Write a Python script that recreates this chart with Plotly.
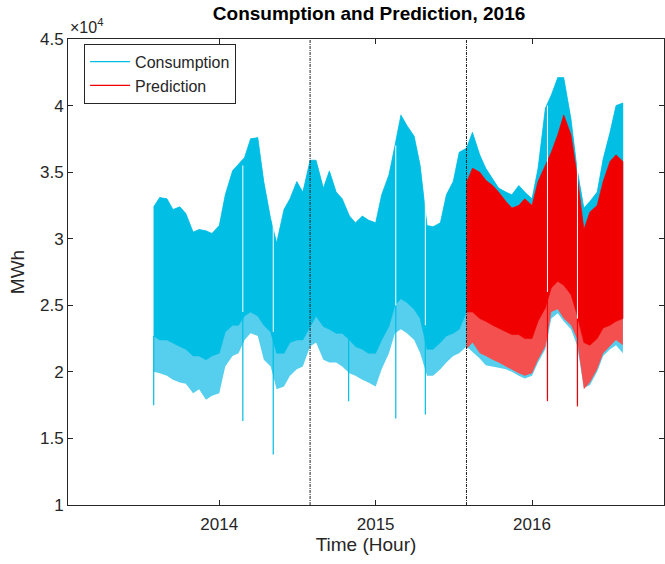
import pandas as pd
import plotly.graph_objects as go

# Half-month sample dates (1st and 15th of each month) plus the last day of data
dates = [d.strftime("%Y-%m-%d") for d in pd.date_range("2013-08-01", "2016-07-15", freq="SMS")]
dates.append("2016-07-31")
pred_dates = dates[48:]  # forecast period starts 2015-08-01

# Consumption (MWh): daily peak envelope, weekday trough envelope, weekend/low-day trough envelope
cons_high = [32400, 33100, 33000, 32200, 32400, 31900, 30500, 30700, 30600, 30400,
             31000, 33300, 35100, 35600, 36100, 37500, 37600, 34300, 31500, 29700,
             32200, 33000, 34300, 33500, 35900, 35900, 33800, 35100, 33500, 33000,
             31700, 31200, 31700, 31400, 31200, 33300, 34800, 37000, 39300, 38500,
             37700, 35500, 31000, 30900, 31200, 33300, 34300, 36500, 36800, 38000,
             36300, 35300, 34500, 33800, 33500, 33300, 34000, 33500, 33000, 35300,
             39800, 40800, 42100, 42100, 39000, 35300, 32300, 32800, 33500, 36000,
             38000, 40000, 40200]
cons_core_low = [22700, 22400, 22400, 22200, 21900, 21700, 21200, 21200, 20900, 21200,
                 21400, 23000, 23500, 23500, 24200, 24500, 24200, 23500, 23000, 21400,
                 21400, 22200, 22400, 22400, 23400, 24200, 23400, 23200, 22900, 22900,
                 22400, 21900, 21700, 21400, 21400, 22400, 23400, 25000, 25500, 25200,
                 24700, 24000, 21700, 21700, 22200, 22700, 22900, 23200, 24500, 24500,
                 24000, 23800, 23500, 23300, 23000, 22800, 22800, 22500, 22500, 23800,
                 24800, 26200, 26800, 26500, 25800, 24300, 22200, 22000, 22500, 23300,
                 23500, 23800, 24000]
cons_spike_low = [20000, 19900, 19700, 19400, 19200, 19100, 18400, 18700, 17900, 18200,
                  18400, 20400, 21200, 21400, 22400, 22900, 22700, 20900, 20400, 18700,
                  18900, 19700, 20200, 20400, 21900, 22200, 20900, 20700, 20700, 20400,
                  19900, 19700, 19400, 19200, 18900, 20200, 21400, 22900, 23200, 22900,
                  22400, 21400, 19700, 19700, 20200, 20700, 21200, 21400, 21900, 21500,
                  21000, 20500, 20400, 20300, 20200, 20000, 19700, 19500, 19700, 20700,
                  21700, 24000, 24400, 23800, 23200, 22000, 18800, 19000, 20000, 21200,
                  21700, 22000, 21400]

# Prediction (MWh) over the forecast period
pred_high = [34200, 35300, 35000, 34400, 34000, 33500, 32800, 32300, 32500, 33000,
             32500, 34300, 35500, 36500, 37800, 39300, 37800, 34800, 30700, 32000,
             32500, 34300, 35800, 36300, 35800]
pred_core_low = [24500, 24500, 24000, 23800, 23500, 23300, 23000, 22800, 22800, 22500,
                 22500, 23800, 24800, 26300, 26800, 26500, 25800, 24300, 22200, 22000,
                 22500, 23300, 23500, 23800, 24000]
pred_spike_low = [21700, 22200, 21400, 21200, 20900, 20700, 20400, 20200, 19900, 19700,
                  19900, 20900, 21900, 24500, 24700, 24000, 23500, 22500, 18700, 19200,
                  20200, 21400, 21900, 22400, 22000]

# Holidays: load drops sharply for a day
holiday_dates = ["2014-02-25", "2014-05-07", "2015-02-17", "2015-04-27", "2016-02-06", "2016-04-16"]
holiday_gap_top = [35500, 31500, 37000, 35500, 40000, 36000]
holiday_gap_bottom = [24500, 23000, 25000, 23500, 26000, 24000]
cons_holiday_min = [16300, 13800, 16500, 16800, 18000, 17600]
pred_holiday_dates = ["2016-02-06", "2016-04-16"]
pred_holiday_min = [17800, 17400]

# Other isolated low days
cons_low_dates = ["2013-08-01", "2014-10-30"]
cons_low_top = [22700, 22900]
cons_low_min = [17500, 17800]

# Period boundaries (dashed lines)
split_dates = ["2014-08-01", "2015-08-01"]

year_ticks = ["2014-01-01", "2015-01-01", "2016-01-01"]
year_labels = ["2014", "2015", "2016"]
y_ticks = [10000, 15000, 20000, 25000, 30000, 35000, 40000, 45000]
y_labels = ["1", "1.5", "2", "2.5", "3", "3.5", "4", "4.5"]

CYAN = "rgb(0,190,228)"
CYAN_LIGHT = "rgb(85,207,237)"
RED = "rgb(240,0,0)"
RED_LIGHT = "rgb(244,80,80)"
FONT = "Liberation Sans, Arial, sans-serif"
AXIS = "#262626"


def band(x, top, bottom, fill, line_w):
    return go.Scatter(
        x=list(x) + list(x)[::-1],
        y=list(top) + list(bottom)[::-1],
        fill="toself", fillcolor=fill, mode="lines",
        line=dict(color=fill, width=line_w),
        hoverinfo="skip", showlegend=False,
    )


def segments(xs, y0s, y1s, color, width):
    sx, sy = [], []
    for x, a, b in zip(xs, y0s, y1s):
        sx += [x, x, None]
        sy += [a, b, None]
    return go.Scatter(x=sx, y=sy, mode="lines", line=dict(color=color, width=width),
                      hoverinfo="skip", showlegend=False)


fig = go.Figure()

# Consumption band
fig.add_trace(band(dates, cons_high, cons_spike_low, CYAN_LIGHT, 0))
fig.add_trace(band(dates, cons_high, cons_core_low, CYAN, 0.6))
fig.add_trace(segments(cons_low_dates, cons_low_top, cons_low_min, CYAN, 1.2))
fig.add_trace(segments(holiday_dates, holiday_gap_bottom, cons_holiday_min, CYAN, 1.2))

# Prediction band
fig.add_trace(band(pred_dates, pred_high, pred_spike_low, RED_LIGHT, 0))
fig.add_trace(band(pred_dates, pred_high, pred_core_low, RED, 0.6))
fig.add_trace(segments(pred_holiday_dates, holiday_gap_bottom[4:], pred_holiday_min, RED, 1.2))

# Holiday gaps cut through the bands
fig.add_trace(segments(holiday_dates, holiday_gap_top, holiday_gap_bottom, "white", 1.0))

# Legend entries
fig.add_trace(go.Scatter(x=[None], y=[None], mode="lines", name="Consumption",
                         line=dict(color=CYAN, width=1.2)))
fig.add_trace(go.Scatter(x=[None], y=[None], mode="lines", name="Prediction",
                         line=dict(color=RED, width=1.2)))

for d in split_dates:
    fig.add_shape(type="line", xref="x", yref="paper", x0=d, x1=d, y0=0, y1=1,
                  line=dict(color="#222222", width=1, dash="3px,1px,1px,1px"), layer="above")

fig.add_annotation(xref="paper", yref="paper", x=0.0, y=1.0, xanchor="left", yanchor="bottom",
                   text="×10<sup>4</sup>", showarrow=False, yshift=1,
                   font=dict(family=FONT, size=16, color=AXIS))

fig.update_layout(
    width=665, height=564,
    margin=dict(l=68, r=1, t=39, b=59),
    paper_bgcolor="white", plot_bgcolor="white",
    font=dict(family=FONT, size=17, color=AXIS),
    title=dict(text="<b>Consumption and Prediction, 2016</b>", x=0.555, xanchor="center",
               y=0.976, yanchor="middle", font=dict(family=FONT, size=19, color="black")),
    legend=dict(x=0.027, y=0.99, xanchor="left", yanchor="top",
                bgcolor="white", bordercolor=AXIS, borderwidth=1,
                font=dict(family=FONT, size=16, color=AXIS),
                itemwidth=40, tracegroupgap=0),
    showlegend=True,
)

fig.update_xaxes(
    type="date", range=["2013-01-13", "2016-11-04"],
    tickvals=year_ticks, ticktext=year_labels,
    ticks="inside", ticklen=5, tickcolor=AXIS, mirror="ticks",
    showline=True, linecolor=AXIS, linewidth=1, showgrid=False, zeroline=False,
    tickfont=dict(family=FONT, size=17, color=AXIS), ticklabelstandoff=4,
    title=dict(text="Time (Hour)", font=dict(family=FONT, size=19, color=AXIS), standoff=4),
)
fig.update_yaxes(
    range=[10000, 45000], tickvals=y_ticks, ticktext=y_labels,
    ticks="inside", ticklen=5, tickcolor=AXIS, mirror="ticks",
    showline=True, linecolor=AXIS, linewidth=1, showgrid=False, zeroline=False,
    tickfont=dict(family=FONT, size=17, color=AXIS),
    title=dict(text="MWh", font=dict(family=FONT, size=19, color=AXIS), standoff=10),
)

fig.write_html("out.html")
